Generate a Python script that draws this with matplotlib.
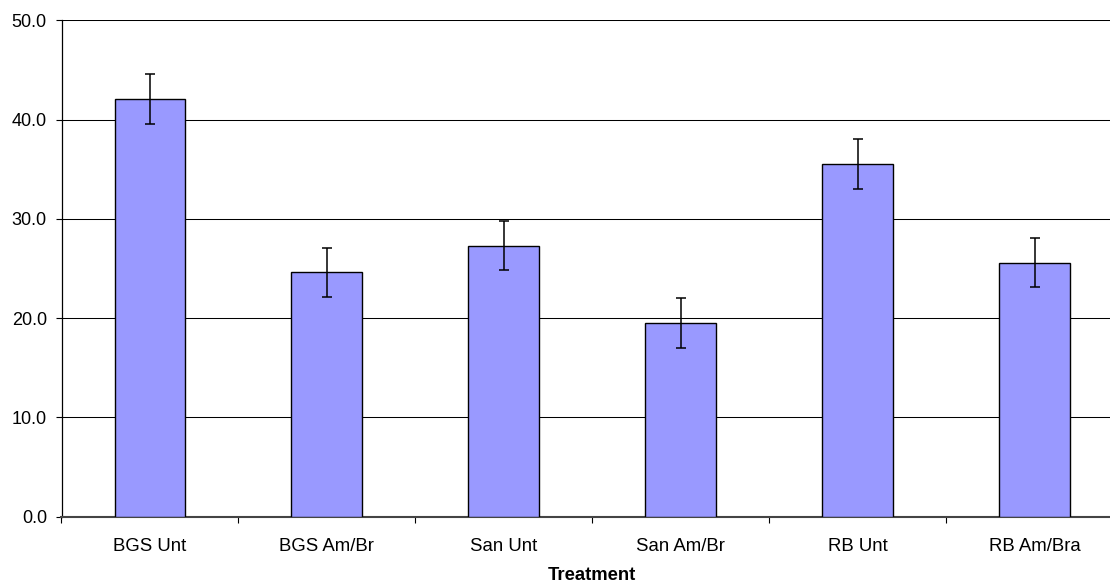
import numpy as np
import matplotlib
matplotlib.use("Agg")
import matplotlib.pyplot as plt
from matplotlib.ticker import FormatStrFormatter, MultipleLocator

# data
treatments = ["BGS Unt", "BGS Am/Br", "San Unt", "San Am/Br", "RB Unt", "RB Am/Bra"]
means = [42.1, 24.6, 27.3, 19.5, 35.5, 25.6]
errors = [2.5, 2.5, 2.5, 2.5, 2.5, 2.5]
y_ticks = [0, 10, 20, 30, 40, 50]

plt.rcParams['font.family'] = ['Liberation Sans', 'DejaVu Sans']

fig = plt.figure(figsize=(11.1, 5.82), dpi=100)
# plot area runs a bit past the right edge, like the original export
ax = fig.add_axes([61.5 / 1110, 65.3 / 582, (1123 - 61.5) / 1110, (516.7 - 20.3) / 582])

x = np.arange(len(treatments))
ax.bar(x, means, width=0.4, color='#9999FF', edgecolor='black', linewidth=1.0, zorder=3)
ax.errorbar(x, means, yerr=errors, fmt='none', ecolor='black', elinewidth=1.1,
            capsize=3.4, capthick=1.1, zorder=4)

ax.set_xlim(-0.5, len(treatments) - 0.5)
ax.set_ylim(0, 50)
ax.set_yticks(y_ticks)
ax.yaxis.set_major_formatter(FormatStrFormatter('%.1f'))
ax.yaxis.grid(True, color='black', linewidth=0.75, zorder=0)
ax.set_axisbelow(True)

ax.set_xticks(x)
ax.set_xticklabels(treatments, fontsize=13.4)
ax.xaxis.set_minor_locator(MultipleLocator(1.0, offset=0.5))
ax.tick_params(axis='x', which='major', length=0, pad=15)
ax.tick_params(axis='x', which='minor', length=4.5, width=0.8, color='black')
ax.tick_params(axis='y', length=4.5, width=0.8, pad=6, labelsize=13)

for side in ['top', 'right']:
    ax.spines[side].set_visible(False)
ax.spines['left'].set_color('black')
ax.spines['left'].set_linewidth(0.9)
ax.spines['bottom'].set_color('#444444')
ax.spines['bottom'].set_linewidth(1.5)

ax.set_xlabel('Treatment', fontsize=13.3, fontweight='bold', labelpad=9)

fig.savefig('out.png', dpi=100)
